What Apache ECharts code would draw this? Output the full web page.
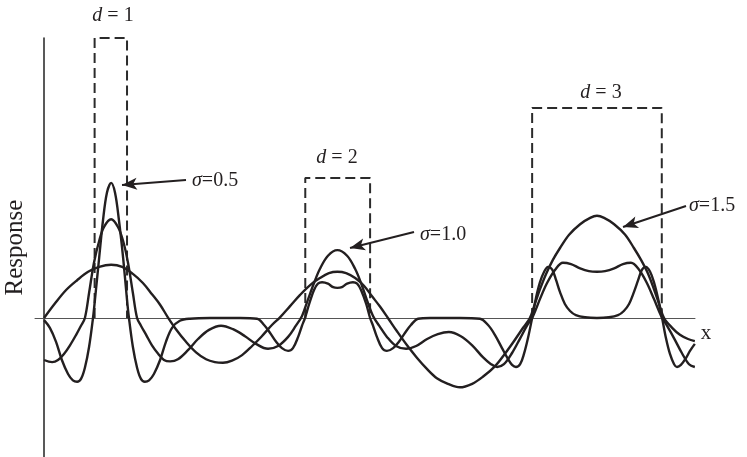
<!DOCTYPE html>
<html><head><meta charset="utf-8">
<script src="https://cdn.jsdelivr.net/npm/echarts@6/dist/echarts.min.js"></script>
<style>html,body{margin:0;padding:0;background:#fff}#c{width:747px;height:457px}</style>
</head><body><div id="c"></div>
<script>
// Box (input signal) definitions
const boxStart = [1.5, 8, 15];
const boxEnd = [2.5, 10, 19];
const boxHeight = [4, 2, 3];
const boxLabels = ['1', '2', '3'];
const sigmaLabels = ['0.5', '1.0', '1.5'];

// Response curves: [x, response]
const resp05 = [[-0.06,-0.03],[0.12,-0.14],[0.31,-0.34],[0.49,-0.60],[0.68,-0.80],[0.83,-0.89],[0.96,-0.91],[1.08,-0.87],[1.20,-0.71],[1.33,-0.41],[1.45,0],[1.51,0.26],[1.64,0.86],[1.76,1.40],[1.88,1.79],[2.01,1.93],[2.13,1.79],[2.25,1.40],[2.38,0.86],[2.50,0.26],[2.56,0],[2.68,-0.41],[2.81,-0.71],[2.93,-0.87],[3.05,-0.91],[3.18,-0.89],[3.33,-0.80],[3.52,-0.60],[3.70,-0.34],[3.89,-0.14],[4.13,-0.04],[4.44,-0.01],[5.06,0],[5.99,0],[6.51,-0.01],[6.73,-0.10],[6.91,-0.21],[7.10,-0.34],[7.28,-0.43],[7.47,-0.47],[7.62,-0.43],[7.78,-0.27],[7.90,-0.11],[7.99,0],[8.12,0.20],[8.27,0.40],[8.39,0.49],[8.52,0.51],[8.70,0.49],[8.86,0.44],[8.99,0.43],[9.13,0.44],[9.29,0.49],[9.47,0.51],[9.60,0.49],[9.72,0.40],[9.88,0.20],[10.00,0],[10.09,-0.11],[10.21,-0.27],[10.37,-0.43],[10.52,-0.47],[10.71,-0.43],[10.89,-0.34],[11.08,-0.21],[11.26,-0.10],[11.48,-0.01],[11.85,0],[12.77,0],[13.39,-0.01],[13.64,-0.10],[13.85,-0.24],[14.07,-0.43],[14.26,-0.59],[14.38,-0.67],[14.50,-0.70],[14.63,-0.66],[14.75,-0.51],[14.87,-0.29],[15.00,0],[15.12,0.29],[15.24,0.51],[15.37,0.66],[15.49,0.73],[15.62,0.69],[15.74,0.54],[15.86,0.37],[16.01,0.20],[16.17,0.10],[16.35,0.04],[16.63,0.01],[17.00,0],[17.37,0.01],[17.65,0.04],[17.83,0.10],[17.99,0.20],[18.14,0.37],[18.27,0.54],[18.39,0.69],[18.51,0.73],[18.64,0.66],[18.76,0.51],[18.88,0.29],[19.01,0],[19.13,-0.29],[19.25,-0.51],[19.38,-0.66],[19.47,-0.70],[19.59,-0.67],[19.75,-0.57],[19.87,-0.47],[20.02,-0.37]];

const resp10 = [[-0.06,-0.60],[0.19,-0.63],[0.37,-0.60],[0.56,-0.51],[0.74,-0.39],[0.93,-0.24],[1.08,-0.11],[1.20,0],[1.33,0.36],[1.48,0.79],[1.64,1.10],[1.79,1.30],[2.01,1.41],[2.22,1.30],[2.38,1.10],[2.53,0.79],[2.68,0.36],[2.81,0],[2.93,-0.11],[3.09,-0.24],[3.27,-0.39],[3.46,-0.51],[3.64,-0.60],[3.83,-0.62],[4.07,-0.59],[4.38,-0.46],[4.69,-0.30],[5.03,-0.17],[5.40,-0.11],[5.77,-0.16],[6.14,-0.26],[6.48,-0.37],[6.85,-0.44],[7.16,-0.40],[7.47,-0.27],[7.71,-0.11],[7.90,0.03],[8.08,0.26],[8.27,0.50],[8.45,0.70],[8.70,0.89],[8.99,0.97],[9.29,0.89],[9.54,0.70],[9.72,0.50],[9.90,0.26],[10.09,0.03],[10.28,-0.11],[10.52,-0.27],[10.80,-0.40],[11.11,-0.44],[11.42,-0.40],[11.76,-0.30],[12.09,-0.23],[12.43,-0.20],[12.80,-0.26],[13.15,-0.39],[13.48,-0.56],[13.73,-0.66],[13.92,-0.70],[14.13,-0.66],[14.38,-0.50],[14.63,-0.29],[14.84,-0.11],[15.03,0.03],[15.24,0.27],[15.46,0.50],[15.71,0.69],[15.95,0.79],[16.20,0.77],[16.48,0.71],[16.75,0.67],[17.00,0.66],[17.25,0.67],[17.53,0.71],[17.80,0.77],[18.05,0.79],[18.30,0.69],[18.54,0.50],[18.76,0.27],[18.98,0.03],[19.16,-0.11],[19.38,-0.29],[19.62,-0.50],[19.84,-0.66],[20.02,-0.70]];

const resp15 = [[-0.06,0],[0.28,0.21],[0.62,0.40],[0.96,0.54],[1.30,0.66],[1.64,0.73],[2.01,0.76],[2.35,0.73],[2.68,0.63],[2.99,0.50],[3.27,0.34],[3.52,0.19],[3.76,0.01],[4.01,-0.16],[4.32,-0.34],[4.63,-0.49],[4.94,-0.59],[5.21,-0.63],[5.46,-0.64],[5.74,-0.61],[6.05,-0.53],[6.36,-0.40],[6.66,-0.26],[6.97,-0.10],[7.22,0.01],[7.53,0.17],[7.84,0.33],[8.15,0.47],[8.45,0.57],[8.73,0.64],[8.99,0.66],[9.26,0.64],[9.54,0.57],[9.81,0.46],[10.06,0.31],[10.31,0.16],[10.55,0],[10.83,-0.19],[11.14,-0.39],[11.45,-0.57],[11.76,-0.73],[12.06,-0.86],[12.40,-0.94],[12.77,-0.99],[13.15,-0.94],[13.48,-0.84],[13.85,-0.69],[14.16,-0.51],[14.47,-0.31],[14.72,-0.14],[14.93,0],[15.09,0.21],[15.24,0.41],[15.43,0.63],[15.64,0.83],[15.86,1.00],[16.14,1.19],[16.48,1.34],[16.79,1.43],[17.00,1.46],[17.22,1.43],[17.53,1.34],[17.87,1.19],[18.14,1.00],[18.36,0.83],[18.58,0.63],[18.76,0.41],[18.91,0.21],[19.07,0],[19.32,-0.14],[19.56,-0.24],[19.81,-0.30],[20.02,-0.33]];

const FONT = '"Liberation Serif","Times New Roman",serif';
const INK = '#231f20';
const chart = echarts.init(document.getElementById('c'), null, {renderer: 'canvas'});

const series = [];
[resp05, resp10, resp15].forEach(function (d) {
  series.push({type: 'line', data: d, smooth: 0.35, symbol: 'none', z: 3,
    lineStyle: {color: INK, width: 2.4}, silent: true});
});
boxStart.forEach(function (a, i) {
  series.push({type: 'line', symbol: 'none', z: 2, silent: true,
    data: [[a, 0], [a, boxHeight[i]], [boxEnd[i], boxHeight[i]], [boxEnd[i], 0]],
    lineStyle: {color: '#2b2b2b', width: 2, type: [10, 5]}});
});
// arrows pointing at the curves
series[0].markLine = {
  silent: true, animation: false, symbol: ['none', 'arrow'], symbolSize: [9, 15],
  label: {show: false}, lineStyle: {color: INK, width: 2, type: 'solid'},
  data: [
    [{x: 186, y: 180}, {x: 122, y: 185}],
    [{x: 414, y: 232}, {x: 350, y: 248}],
    [{x: 686, y: 206}, {x: 623, y: 227}]
  ]
};

function lbl(x, y, txt, align, size) {
  return {type: 'text', x: x, y: y, silent: true,
    style: {text: txt, fill: INK, fontFamily: FONT, fontSize: size || 20,
      textAlign: align, textVerticalAlign: 'middle', align: align, verticalAlign: 'middle',
      rich: {i: {fontStyle: 'italic', fontFamily: FONT, fontSize: size || 20, fill: INK}}}};
}
const graphic = [
  lbl(113, 16, '{i|d} = ' + boxLabels[0], 'center'),
  lbl(337, 158, '{i|d} = ' + boxLabels[1], 'center'),
  lbl(601, 93, '{i|d} = ' + boxLabels[2], 'center'),
  lbl(192, 181, '{i|σ}=' + sigmaLabels[0], 'left'),
  lbl(420, 235, '{i|σ}=' + sigmaLabels[1], 'left'),
  lbl(689, 206, '{i|σ}=' + sigmaLabels[2], 'left'),
  lbl(706, 333, 'x', 'center', 21)
];

chart.setOption({
  animation: false,
  backgroundColor: '#fff',
  grid: {left: 35, right: 52, top: 38, bottom: 0, containLabel: false, outerBoundsMode: 'none'},
  xAxis: {type: 'value', min: -0.3394, max: 20.025,
    axisLine: {show: true, onZero: true, lineStyle: {color: '#555', width: 1}},
    axisTick: {show: false}, axisLabel: {show: false}, splitLine: {show: false}},
  yAxis: {type: 'value', min: -1.9857, max: 4, offset: -9,
    axisLine: {show: true, onZero: false, lineStyle: {color: '#222', width: 1.5}},
    axisTick: {show: false}, axisLabel: {show: false}, splitLine: {show: false},
    name: 'Response', nameLocation: 'middle', nameGap: 16,
    nameTextStyle: {fontFamily: FONT, fontSize: 25, color: INK}},
  graphic: graphic,
  series: series
});
</script></body></html>
